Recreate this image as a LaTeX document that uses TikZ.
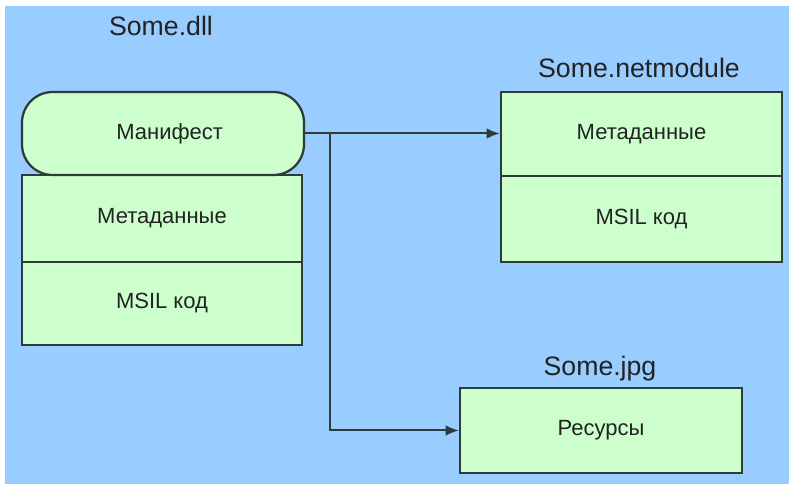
\documentclass[tikz,border=0pt]{standalone}
\usepackage{fontspec}
\setmainfont{Liberation Sans}
\usetikzlibrary{arrows.meta}
\definecolor{bgblue}{HTML}{99CCFF}
\definecolor{partgreen}{HTML}{CCFFCC}
\definecolor{edge}{HTML}{2E3B3B}
\definecolor{ink}{HTML}{222222}
\tikzset{
  part/.style={draw=edge, line width=1.7pt, fill=partgreen, rectangle,
    inner sep=0pt, text=ink, font=\fontsize{16.5}{18}\selectfont},
  title/.style={text=ink, font=\fontsize{20}{22}\selectfont, inner sep=0pt},
  link/.style={draw=edge, line width=1.5pt, -{Latex[length=10pt,width=8pt]}}
}
\begin{document}
\begin{tikzpicture}[x=0.75pt,y=-0.75pt]
  \useasboundingbox (0,0) rectangle (789,484);
  \fill[white] (0,0) rectangle (789,484);
  \fill[bgblue] (5,6) rectangle (789,484);

  % Some.dll
  \node[title] (dll) at (161,26) {Some.dll};
  \node[part, minimum width=280*0.75pt, minimum height=87*0.75pt] (dllmeta) at (162,218.5) {Метаданные};
  \node[part, minimum width=280*0.75pt, minimum height=83*0.75pt] (dllcode) at (162,303.5) {MSIL код};
  \node[part, rounded corners=23pt, minimum width=282*0.75pt, minimum height=83*0.75pt] (manifest) at (163,133.5) {\hspace*{10pt}Манифест};

  % Some.netmodule
  \node[title] (net) at (639,68) {Some.netmodule};
  \node[part, minimum width=281*0.75pt, minimum height=84*0.75pt] (netmeta) at (641.5,134) {Метаданные};
  \node[part, minimum width=281*0.75pt, minimum height=86*0.75pt] (netcode) at (641.5,219) {MSIL код};

  % Some.jpg
  \node[title] (jpg) at (600,369) {Some.jpg};
  \node[part, minimum width=282*0.75pt, minimum height=85*0.75pt] (res) at (601,430.5) {Ресурсы};

  % references from the manifest
  \coordinate (branch) at (330,133.5);
  \draw[link] (manifest.east) -- (manifest.east -| netmeta.west);
  \draw[link] (branch) |- (res.west);
\end{tikzpicture}
\end{document}
